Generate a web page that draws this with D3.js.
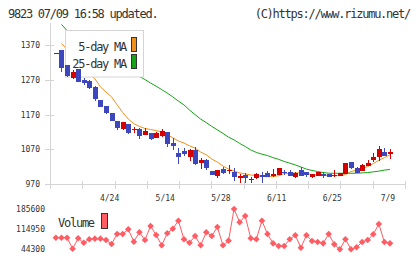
<!DOCTYPE html>
<html><head><meta charset="utf-8">
<script src="https://cdn.jsdelivr.net/npm/d3@7"></script>
<style>
body{margin:0;background:#fff;}
svg{display:block;font-family:"DejaVu Sans Mono",monospace;}
</style></head><body><div id="chart"></div>
<script>
// daily prices (index 0 = oldest)
var open  = [1345,1356,1313,1275,1301,1270,1268,1249,1212,1195, 1175,1152,1128,1143,1126,1128,1111,1116,1103,1108,
             1119,1089,1060,1066,1049,1068,1030,1039,1007,993, 1012,1009,1005,986,996,982,986,996,1001,993,
             996,1004,1004,991,1010,1005,989,994,999,998, 994,994,999,1033,1015,1008,1023,1039,1049,1061, 1056];
var close = [1347,1304,1281,1292,1265,1262,1246,1215,1193,1174, 1152,1130,1148,1116,1128,1109,1124,1099,1118,1124,
             1085,1080,1049,1056,1068,1028,1039,1015,996,1010, 1001,1011,991,994,986,984,999,991,991,999,
             1015,1003,994,1001,994,996,998,1004,993,991, 996,1001,1030,1015,1003,1025,1031,1049,1071,1052, 1063];
var high  = [1348,1357,1314,1299,1302,1275,1270,1252,1213,1196, 1176,1153,1149,1144,1135,1130,1131,1117,1119,1128,
             1121,1102,1073,1073,1071,1077,1044,1041,1008,1011, 1020,1025,1016,999,1001,991,1002,1005,1008,1012,
             1016,1010,1010,1005,1020,1006,999,1005,1004,999, 1010,1002,1031,1034,1020,1027,1039,1058,1080,1073, 1070];
var low   = [1345,1294,1278,1273,1264,1255,1245,1209,1192,1173, 1151,1125,1127,1115,1117,1099,1110,1098,1102,1105,
             1076,1068,1028,1051,1037,1025,1013,1010,995,986, 1000,999,980,973,972,972,985,972,990,989,
             995,996,993,986,993,989,986,993,987,989, 989,993,998,1014,1001,1007,1022,1034,1037,1051, 1041];
var ma5   = [null,1375,1358,1340,1323,1306,1288,1273,1250,1235, 1221,1198,1176,1157,1144,1136,1130,1127,1124,1120,
             1113,1103,1094,1088,1080,1073,1062,1054,1042,1033, 1022,1013,1007,1002,999,996,994,992,991,991,
             994,1000,1000,1002,1002,1000,997,996,996,994, 994,994,997,1006,1010,1015,1020,1029,1038,1046, 1054];
var ma25  = [null,1430,1412,1402,1392,1382,1372,1362,1352,1342, 1332,1322,1312,1300,1290,1280,1271,1261,1252,1242,
             1232,1221,1209,1198,1183,1170,1157,1147,1136,1126, 1116,1105,1097,1087,1078,1068,1061,1056,1052,1046,
             1041,1035,1030,1025,1019,1013,1009,1006,1003,1001, 1001,1001,1001,1001,1001,1002,1003,1005,1007,1010, 1012];
var volume = [85000,85000,85000,46400,82900,67400,79400,81500,81500,76900, 62900,97900,97900,114400,70900,103900,76900,126000,94400,58300,
              100400,116500,144600,79400,67400,90900,58300,103900,90900,122500, 58300,74500,185600,139000,161100,82900,79400,144600,97900,65300,
              55900,55900,79400,93400,49900,93400,73400,69900,65300,97900, 61800,44300,79400,44300,51300,69900,76900,96900,133000,69900, 65300];

var priceTicks = [970, 1070, 1170, 1270, 1370];
var volTicks = [44300, 114950, 185600];
var dateLabels = ["4/24", "5/14", "5/28", "6/11", "6/25", "7/9"];
var dateIndex = [10, 20, 30, 40, 50, 60];

var title = "9823 07/09 16:58 updated.";
var credit = "(C)https://www.rizumu.net/";

var upColor = "#d40000", downColor = "#3c46bd";
var ma5Color = "#f0901c", ma25Color = "#16a316", volColor = "#ff5c64";
var axisColor = "#d4d4d4", textColor = "#333";
var bigFont = 12, bigSpacing = -1.25;

var W = 420, H = 259;
var svg = d3.select("#chart").append("svg")
    .attr("width", W)
    .attr("height", H);

var n = close.length;
var x = d3.scaleLinear().domain([-1.06, 62.7]).range([50, 405]);
var y = d3.scaleLinear().domain([970, 1434]).range([184, 23]);
var vy = d3.scaleLinear().domain([44300, 185600]).range([249.3, 209]);

// header
svg.append("text").attr("x", 8).attr("y", 17.5)
    .attr("font-size", bigFont).attr("letter-spacing", bigSpacing)
    .attr("fill", textColor).text(title);
svg.append("text").attr("x", 410).attr("y", 17.5)
    .attr("text-anchor", "end")
    .attr("font-size", bigFont).attr("letter-spacing", bigSpacing)
    .attr("fill", textColor).text(credit);

svg.append("clipPath").attr("id", "plotclip")
    .append("rect").attr("x", 50).attr("y", 23).attr("width", 356).attr("height", 162);

// axes
var axes = svg.append("g").attr("class", "axes")
    .attr("stroke", axisColor).attr("shape-rendering", "crispEdges");
axes.append("line").attr("x1", 50.5).attr("x2", 50.5).attr("y1", 23).attr("y2", 188);
axes.append("line").attr("x1", 50).attr("x2", 406).attr("y1", 184.5).attr("y2", 184.5);
axes.selectAll("line.ytick").data(priceTicks).enter().append("line")
    .attr("class", "ytick")
    .attr("x1", 45).attr("x2", 54)
    .attr("y1", d => Math.round(y(d)) + 0.5).attr("y2", d => Math.round(y(d)) + 0.5);
axes.selectAll("line.xtick").data(d3.range(12)).enter().append("line")
    .attr("class", "xtick")
    .attr("x1", d => Math.round(50 + d * 355 / 11) + 0.5)
    .attr("x2", d => Math.round(50 + d * 355 / 11) + 0.5)
    .attr("y1", 181).attr("y2", 189);

svg.selectAll("text.ylab").data(priceTicks).enter().append("text")
    .attr("class", "ylab")
    .attr("x", 40).attr("y", d => y(d) + 3)
    .attr("text-anchor", "end").attr("font-size", 8)
    .attr("fill", textColor).text(d => d);

svg.selectAll("text.xlab").data(dateLabels).enter().append("text")
    .attr("class", "xlab")
    .attr("x", (d, i) => x(dateIndex[i]) - 2).attr("y", 200.5)
    .attr("text-anchor", "middle").attr("font-size", 8)
    .attr("fill", textColor).text(d => d);

// moving averages (under the legend box)
var idx = d3.range(n);
var maLine = function (arr) {
    return d3.line()
        .defined(i => arr[i] != null)
        .x(i => x(i))
        .y(i => y(arr[i]));
};
var lines = svg.append("g").attr("clip-path", "url(#plotclip)");
lines.append("path").attr("d", maLine(ma25)(idx))
    .attr("fill", "none").attr("stroke", ma25Color).attr("stroke-width", 1);
lines.append("path").attr("d", maLine(ma5)(idx))
    .attr("fill", "none").attr("stroke", ma5Color).attr("stroke-width", 1);

// legend
var legend = svg.append("g").attr("class", "legend");
legend.append("rect").attr("x", 65.5).attr("y", 30.5).attr("width", 78).attr("height", 46.5)
    .attr("fill", "#fff").attr("stroke", axisColor);
var legItems = [["5-day MA", ma5Color, 50.5], ["25-day MA", ma25Color, 67.5]];
legItems.forEach(function (it) {
    legend.append("text").attr("x", 126).attr("y", it[2])
        .attr("text-anchor", "end")
        .attr("font-size", bigFont).attr("letter-spacing", bigSpacing)
        .attr("fill", textColor).text(it[0]);
    legend.append("rect").attr("x", 131.5).attr("y", it[2] - 13).attr("width", 5).attr("height", 14)
        .attr("fill", it[1]).attr("stroke", "#333");
});

// candles
var candles = svg.append("g").attr("class", "candles").attr("shape-rendering", "crispEdges");
var cg = candles.selectAll("g").data(idx).enter().append("g");
cg.append("line")
    .attr("x1", i => Math.round(x(i)) + 0.5).attr("x2", i => Math.round(x(i)) + 0.5)
    .attr("y1", i => y(high[i])).attr("y2", i => y(low[i]))
    .attr("stroke", i => close[i] >= open[i] ? upColor : downColor);
cg.append("rect")
    .attr("x", i => Math.round(x(i)) - 2)
    .attr("width", 5)
    .attr("y", i => y(Math.max(open[i], close[i])))
    .attr("height", i => Math.max(1, Math.abs(y(open[i]) - y(close[i]))))
    .attr("fill", i => close[i] >= open[i] ? upColor : downColor);

// volume
svg.selectAll("text.vlab").data(volTicks).enter().append("text")
    .attr("class", "vlab")
    .attr("x", 45).attr("y", d => vy(d) + 3)
    .attr("text-anchor", "end").attr("font-size", 8)
    .attr("fill", textColor).text(d => d);

svg.append("path")
    .attr("d", d3.line().x(i => x(i)).y(i => vy(volume[i]))(idx))
    .attr("fill", "none").attr("stroke", volColor).attr("stroke-width", 1);
svg.selectAll("path.vpt").data(idx).enter().append("path")
    .attr("class", "vpt")
    .attr("d", d3.symbol().type(d3.symbolSquare).size(22))
    .attr("transform", i => "translate(" + x(i) + "," + vy(volume[i]) + ") rotate(45)")
    .attr("fill", volColor);

svg.append("text").attr("x", 58).attr("y", 226.5)
    .attr("font-size", bigFont).attr("letter-spacing", bigSpacing)
    .attr("fill", textColor).text("Volume");
svg.append("rect").attr("x", 101.5).attr("y", 213.5).attr("width", 6).attr("height", 15)
    .attr("fill", volColor).attr("stroke", "#333");
</script>
</body></html>
